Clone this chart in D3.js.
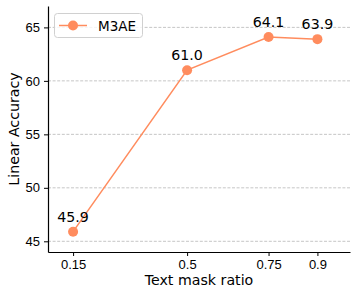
<!DOCTYPE html>
<html>
<head>
<meta charset="utf-8">
<title>Text mask ratio</title>
<style>
    body { margin: 0; background: #fff; }
    svg { display: block; font-family: "DejaVu Sans", sans-serif; }
    .grid line { stroke: #b8b8b8; stroke-dasharray: 3,1.6; stroke-width: 0.8; }
    .axis path, .axis line { stroke: #000; }
    .axis text { font-size: 13px; fill: #000; }
</style>
</head>
<body>
<svg id="chart" width="357" height="296"></svg>
<script src="https://d3js.org/d3.v7.min.js"></script>
<script>
    // data
    const ratios = [0.15, 0.5, 0.75, 0.9];
    const accuracy = [45.9, 61.0, 64.1, 63.9];
    const yTicks = [45, 50, 55, 60, 65];
    const seriesName = 'M3AE';
    const color = '#ff8c5e';

    const svg = d3.select('#chart');
    const mLeft = 48, mRight = 350, mTop = 6, mBottom = 252;

    const x = d3.scaleLinear().domain([0.073, 1.0]).range([mLeft, mRight]);
    const y = d3.scaleLinear().domain([44, 67]).range([mBottom, mTop]);

    // dashed horizontal grid
    svg.append('g').attr('class', 'grid')
        .selectAll('line').data(yTicks).join('line')
        .attr('x1', mLeft).attr('x2', mRight)
        .attr('y1', d => y(d)).attr('y2', d => y(d));

    const xAxis = svg.append('g').attr('class', 'axis')
        .attr('transform', `translate(0,${mBottom})`)
        .call(d3.axisBottom(x).tickValues(ratios).tickFormat(d => String(d)).tickSize(4).tickPadding(4).tickSizeOuter(0));
    const yAxis = svg.append('g').attr('class', 'axis')
        .attr('transform', `translate(${mLeft},0)`)
        .call(d3.axisLeft(y).tickValues(yTicks).tickSize(4).tickPadding(4).tickSizeOuter(0));
    xAxis.select('.domain').attr('stroke-width', 1.2);
    yAxis.select('.domain').attr('stroke-width', 1.2);

    // axis titles
    svg.append('text').attr('x', (mLeft + mRight) / 2).attr('y', 285)
        .attr('text-anchor', 'middle').attr('font-size', 14.2).text('Text mask ratio');
    svg.append('text').attr('transform', `translate(19,${(mTop + mBottom) / 2}) rotate(-90)`)
        .attr('text-anchor', 'middle').attr('font-size', 14.2).text('Linear Accuracy');

    const pts = ratios.map((r, i) => ({ r, v: accuracy[i] }));

    svg.append('path').datum(pts)
        .attr('fill', 'none').attr('stroke', color).attr('stroke-width', 1.5)
        .attr('d', d3.line().x(d => x(d.r)).y(d => y(d.v)));

    svg.append('g').selectAll('circle').data(pts).join('circle')
        .attr('cx', d => x(d.r)).attr('cy', d => y(d.v)).attr('r', 5)
        .attr('fill', color);

    svg.append('g').selectAll('text').data(pts).join('text')
        .attr('x', d => x(d.r)).attr('y', d => y(d.v) - 10)
        .attr('text-anchor', 'middle').attr('font-size', 14.2)
        .text(d => d.v.toFixed(1));

    // legend
    const lg = svg.append('g');
    lg.append('rect').attr('x', 54.5).attr('y', 13.5).attr('width', 88).attr('height', 24)
        .attr('rx', 3).attr('fill', '#fff').attr('fill-opacity', 0.8).attr('stroke', '#d0d0d0');
    lg.append('line').attr('x1', 59).attr('x2', 87).attr('y1', 25.5).attr('y2', 25.5)
        .attr('stroke', color).attr('stroke-width', 1.5);
    lg.append('circle').attr('cx', 73).attr('cy', 25.5).attr('r', 5).attr('fill', color);
    lg.append('text').attr('x', 98).attr('y', 30.5).attr('font-size', 13.5).text(seriesName);
</script>
</body>
</html>
